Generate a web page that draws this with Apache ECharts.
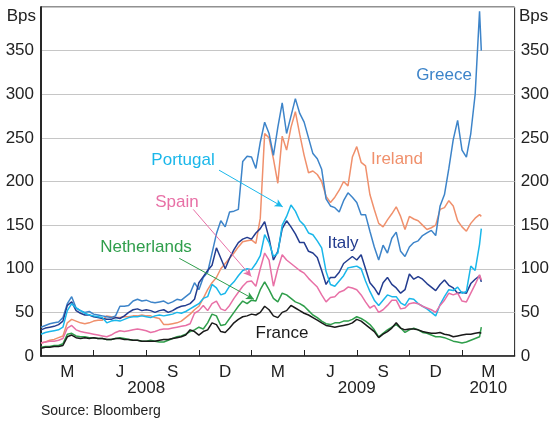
<!DOCTYPE html>
<html>
<head>
<meta charset="utf-8">
<script src="https://cdn.jsdelivr.net/npm/echarts@6/dist/echarts.min.js"></script>
<style>
  html, body { margin: 0; padding: 0; background: #fff; }
  #chart { width: 552px; height: 421px; }
</style>
</head>
<body>
<div id="chart"></div>
<script>
const months = Array.from({ length: 101 }, (_, i) => i / 4).concat([25.1])

const greece = [33,35,37,38,39, 44,60,68,55, 52,50,51,48, 47,46,45,44, 46,57,57,58, 63,65,63,64,
  62,61,62,63, 60,62,65,64, 68,72,84,76, 90,96,118,140, 155,148,165,166, 168,223,229,228,
  215,245,268,255, 230,262,290,255, 275,295,278,268, 250,232,226,214, 180,172,170,165,
  178,187,182,176, 162,162,143,125, 110,127,118,135, 142,120,114,125, 130,132,138,141,
  144,138,172,185, 215,248,270,236, 228,255,300,395, 350]
const ireland = [15,16,18,19,21, 23,38,42,40, 38,37,38,40, 41,41,46,45, 44,44,45,45, 46,46,47,46,
  46,44,43,36, 36,37,38,40, 44,48,53,57, 66,76,84,90, 100,106,112,118, 125,131,132,133,
  129,158,255,250, 226,198,252,236, 262,280,254,230, 210,212,208,200, 183,176,182,190,
  200,195,228,240, 222,218,185,168, 152,148,156,163, 171,160,145,160, 157,155,150,145,
  147,150,168,170, 178,172,155,148, 143,152,158,162, 160]
const italy = [30,32,33,34,36, 40,58,62,52, 49,47,47,45, 44,43,42,42, 44,43,46,50, 53,54,52,53,
  52,50,52,53, 50,52,55,57, 58,60,65,84, 91,98,104,124, 112,100,112,122, 130,134,136,134,
  141,146,154,135, 110,120,146,155, 148,140,130,130, 120,118,113,98, 82,90,90,96,
  106,110,114,110, 116,100,84,78, 70,84,90,82, 78,72,76,94, 88,91,88,83,
  79,75,82,87, 81,78,72,73, 72,83,88,92, 85]
const portugal = [25,27,28,29,30, 33,52,60,55, 52,49,47,46, 45,44,38,40, 41,40,42,44, 45,45,46,45,
  44,46,47,46, 47,48,50,49, 51,54,57,60, 66,68,82,78, 70,72,80,85, 92,98,100,99,
  106,115,139,130, 114,118,150,160, 173,166,155,150, 141,139,132,124, 97,82,80,86,
  92,101,102,103, 100,86,74,64, 58,64,70,68, 68,61,58,66, 65,60,57,54,
  50,46,59,68, 76,75,79,72, 74,103,98,128, 146]
const spain = [15,16,17,17,18, 20,32,35,30, 28,27,26,25, 24,23,22,24, 27,29,28,29, 30,31,30,29,
  27,28,30,31, 31,32,33,34, 35,37,49,52, 58,52,60,63, 54,52,58,66, 73,80,85,86,
  80,100,118,110, 80,100,116,110, 106,102,98,95, 89,84,79,70, 62,67,68,73,
  75,79,78,76, 70,62,55,58, 50,53,58,64, 64,54,55,60, 61,60,57,55,
  53,50,58,64, 72,70,72,63, 62,72,82,93, 87]
const netherlands = [10,11,11,12,12, 14,25,26,23, 22,22,21,21, 20,20,19,19, 20,21,20,19, 18,18,17,17,
  18,17,16,16, 18,20,22,23, 25,28,30,33, 31,38,48,46, 35,36,43,50, 57,63,60,64,
  63,76,85,76, 66,62,72,70, 66,62,60,57, 52,47,44,40, 37,36,38,38,
  40,40,42,45, 43,40,36,30, 22,26,30,33, 36,32,27,30, 32,30,27,26,
  24,22,22,21, 19,17,16,15, 16,18,20,22, 33]
const france = [9,10,10,11,11, 12,22,24,21, 20,21,20,21, 20,20,19,19, 20,20,19,19, 18,18,17,17,
  17,17,18,19, 19,20,21,22, 24,30,28,24, 28,30,38,36, 28,27,32,38, 42,45,46,48,
  47,50,57,53, 46,44,50,52, 58,55,52,49, 47,44,41,38, 35,34,33,34,
  35,36,38,42, 40,36,32,28, 21,25,28,32, 38,32,30,31, 31,30,28,27,
  26,26,27,25, 24,22,23,24, 25,25,26,27, 26]

// month labels sit between the quarterly ticks
const monthLabels = { 1.5: 'M', 4.5: 'J', 7.5: 'S', 10.5: 'D', 13.5: 'M', 16.5: 'J', 19.5: 'S', 22.5: 'D', 25.5: 'M\n2010', 6: '\n2008', 18: '\n2009' }
const yTicks = [0, 50, 100, 150, 200, 250, 300, 350]

const colors = {
  Greece: '#3d84c9',
  Ireland: '#f0906c',
  Italy: '#233c8f',
  Portugal: '#1ab7ea',
  Spain: '#e870a6',
  Netherlands: '#2f9e4b',
  France: '#1a1a1a'
}

const FONT = 'Liberation Sans, Arial, sans-serif'

function pairs(arr) {
  return months.map((m, i) => [m, arr[i]])
}

function arrow(from, to, color) {
  return {
    silent: true,
    symbol: ['none', 'arrow'],
    symbolSize: [6, 8],
    label: { show: false },
    lineStyle: { color: color, width: 1, type: 'solid' },
    emphasis: { disabled: true },
    data: [[{ coord: from }, { coord: to }]]
  }
}

function line(name, arr, extra) {
  return Object.assign({
    name: name,
    type: 'line',
    data: pairs(arr),
    showSymbol: false,
    symbol: 'none',
    lineStyle: { width: 1.5, color: colors[name] },
    itemStyle: { color: colors[name] },
    z: 3
  }, extra || {})
}

function label(text, x, y, color, size, align) {
  return {
    type: 'text',
    x: x,
    y: y,
    z: 10,
    style: {
      text: text,
      fill: color,
      font: (size || 17) + 'px ' + FONT,
      align: align || 'center',
      textAlign: align || 'center',
      verticalAlign: 'middle',
      textVerticalAlign: 'middle'
    }
  }
}

const chart = echarts.init(document.getElementById('chart'))
chart.setOption({
  animation: false,
  grid: { left: 41, right: 36, top: 7, bottom: 65, show: true, borderColor: '#222', borderWidth: 1 },
  xAxis: [
    {
      type: 'value', min: 0, max: 27, interval: 3,
      axisLine: { show: true, lineStyle: { color: '#222', width: 1.5 } },
      axisTick: { show: true, inside: true, length: 6, lineStyle: { color: '#222', width: 1 } },
      axisLabel: { show: false },
      splitLine: { show: false }
    },
    {
      type: 'value', min: 0, max: 27, interval: 1.5, position: 'bottom',
      axisLine: { show: false }, axisTick: { show: false }, splitLine: { show: false },
      axisLabel: {
        margin: 8, color: '#222', fontSize: 17, fontFamily: FONT, lineHeight: 16,
        formatter: v => monthLabels[v] || ''
      }
    }
  ],
  yAxis: [
    {
      type: 'value', min: 0, max: 400, interval: 50, position: 'left',
      axisLine: { show: true, lineStyle: { color: '#222', width: 1.5 } },
      axisTick: { show: false },
      axisLabel: { margin: 7, color: '#222', fontSize: 17, fontFamily: FONT, formatter: v => yTicks.includes(v) ? String(v) : '' },
      splitLine: { show: true, lineStyle: { color: '#c6c6c6', width: 1 } }
    },
    {
      type: 'value', min: 0, max: 400, interval: 50, position: 'right',
      axisLine: { show: true, lineStyle: { color: '#222', width: 1.5 } },
      axisTick: { show: false },
      axisLabel: { margin: 6, color: '#222', fontSize: 17, fontFamily: FONT, formatter: v => yTicks.includes(v) ? String(v) : '' },
      splitLine: { show: false }
    }
  ],
  series: [
    line('Ireland', ireland),
    line('Greece', greece),
    line('Italy', italy),
    line('Portugal', portugal, { markLine: arrow([10.15, 213], [13.78, 171], colors.Portugal) }),
    line('Spain', spain, { markLine: arrow([8.68, 168], [11.99, 91], colors.Spain) }),
    line('Netherlands', netherlands, { markLine: arrow([7.88, 112], [12.14, 65], colors.Netherlands) }),
    line('France', france)
  ],
  graphic: [
    label('Bps', 36, 16, '#222', 17, 'right'),
    label('Bps', 519, 16, '#222', 17, 'left'),
    label('Greece', 444, 75, colors.Greece),
    label('Ireland', 397, 159, colors.Ireland),
    label('Portugal', 183, 160, colors.Portugal),
    label('Spain', 177, 202, colors.Spain),
    label('Netherlands', 146, 247, colors.Netherlands),
    label('Italy', 343, 243, colors.Italy),
    label('France', 282, 333, colors.France),
    label('Source: Bloomberg', 41, 411, '#222', 14, 'left')
  ]
})
</script>
</body>
</html>
